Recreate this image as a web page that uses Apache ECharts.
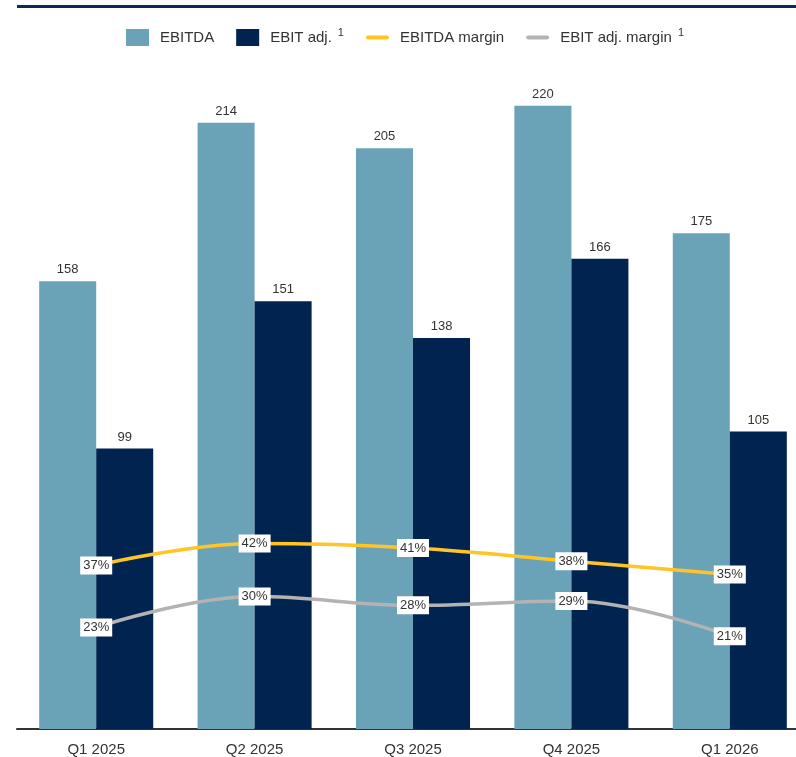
<!DOCTYPE html>
<html>
<head>
<meta charset="utf-8">
<script src="https://cdn.jsdelivr.net/npm/echarts@6/dist/echarts.min.js"></script>
<style>
  html, body { margin: 0; padding: 0; background: #ffffff; overflow: hidden; }
  /* the plot runs past the right edge of the page, so the canvas is a bit wider than the window */
  #chart { width: 810px; height: 757px; }
</style>
</head>
<body>
<div id="chart"></div>
<script>
// Quarterly results (EUR m) and margins (%)
const quarters = ['Q1 2025', 'Q2 2025', 'Q3 2025', 'Q4 2025', 'Q1 2026'];
const ebitda = [158, 214, 205, 220, 175];
const ebitAdj = [99, 151, 138, 166, 105];
const ebitdaMargin = [37, 42, 41, 38, 35];
const ebitAdjMargin = [23, 30, 28, 29, 21];

const FONT = '"Liberation Sans", Arial, sans-serif';
const TEXT = '#333333';
const C_EBITDA = '#6aa3b8';
const C_EBIT = '#00234f';
const C_EBITDA_M = '#ffc425';
const C_EBIT_M = '#b3b3b3';

// thin rounded bar used as the legend marker for the margin lines
const lineIcon = 'path://M2,0 H20 A2,2 0 0 1 20,4 H2 A2,2 0 0 1 2,0 Z';
const withSup = new Set(['EBIT adj.', 'EBIT adj. margin']);

const marginLabel = {
  show: true,
  position: 'inside',
  formatter: p => p.value + '%',
  fontFamily: FONT,
  fontSize: 13,
  color: TEXT,
  backgroundColor: '#ffffff',
  padding: [3, 3, 2, 3]
};

const chart = echarts.init(document.getElementById('chart'), null, { renderer: 'canvas' });
chart.setOption({
  backgroundColor: '#ffffff',
  animation: false,
  textStyle: { fontFamily: FONT },
  graphic: [{
    type: 'rect',
    shape: { x: 17, y: 5, width: 793, height: 3 },
    style: { fill: '#0d2a55' },
    silent: true
  }],
  legend: {
    top: 22,
    left: 'center',
    itemWidth: 23,
    itemHeight: 17,
    itemGap: 22,
    symbolKeepAspect: true,
    data: [
      { name: 'EBITDA', icon: 'rect' },
      { name: 'EBIT adj.', icon: 'rect' },
      { name: 'EBITDA margin', icon: lineIcon },
      { name: 'EBIT adj. margin', icon: lineIcon }
    ],
    formatter: name => withSup.has(name) ? '{t|' + name + '}{s|1}' : '{t|' + name + '}',
    textStyle: {
      fontFamily: FONT,
      fontSize: 15,
      color: TEXT,
      padding: [0, 0, 0, 6],
      rich: {
        t: { fontFamily: FONT, fontSize: 15, color: TEXT },
        s: { fontFamily: FONT, fontSize: 11, color: TEXT, padding: [0, 0, 10, 6] }
      }
    }
  },
  grid: { left: 17, top: 49, width: 792, bottom: 24, containLabel: false },
  xAxis: {
    type: 'category',
    data: quarters,
    axisTick: { show: false },
    axisLine: { lineStyle: { color: '#333333', width: 2 } },
    axisLabel: { fontFamily: FONT, fontSize: 15, color: TEXT, margin: 13 }
  },
  yAxis: [
    { type: 'value', min: 0, max: 240, show: false, splitLine: { show: false } },
    { type: 'value', min: 0, max: 154, show: false, splitLine: { show: false } }
  ],
  series: [
    {
      name: 'EBITDA',
      type: 'bar',
      data: ebitda,
      barGap: 0,
      barCategoryGap: '28%',
      itemStyle: { color: C_EBITDA },
      label: { show: true, position: 'top', distance: 5, fontFamily: FONT, fontSize: 13, color: TEXT }
    },
    {
      name: 'EBIT adj.',
      type: 'bar',
      data: ebitAdj,
      barGap: 0,
      barCategoryGap: '28%',
      itemStyle: { color: C_EBIT },
      label: { show: true, position: 'top', distance: 5, fontFamily: FONT, fontSize: 13, color: TEXT }
    },
    {
      name: 'EBITDA margin',
      type: 'line',
      yAxisIndex: 1,
      data: ebitdaMargin,
      smooth: 0.4,
      symbol: 'circle',
      symbolSize: 2,
      itemStyle: { color: C_EBITDA_M },
      lineStyle: { color: C_EBITDA_M, width: 3.5 },
      label: marginLabel,
      z: 5
    },
    {
      name: 'EBIT adj. margin',
      type: 'line',
      yAxisIndex: 1,
      data: ebitAdjMargin,
      smooth: 0.4,
      symbol: 'circle',
      symbolSize: 2,
      itemStyle: { color: C_EBIT_M },
      lineStyle: { color: C_EBIT_M, width: 3.5 },
      label: marginLabel,
      z: 5
    }
  ]
});
</script>
</body>
</html>
